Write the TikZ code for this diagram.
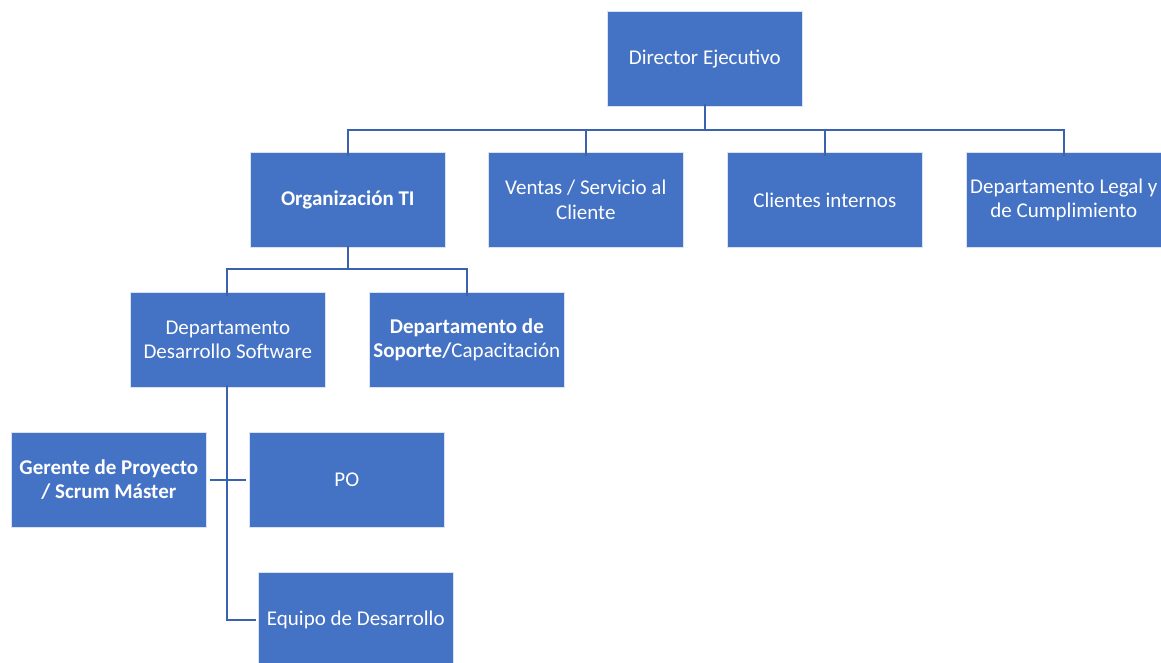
\documentclass[tikz,border=0pt]{standalone}
\usepackage{fontspec}
\setmainfont{Carlito}
\definecolor{boxblue}{HTML}{4472C4}
\definecolor{linkblue}{HTML}{3A62AE}
\tikzset{
  orgbox/.style={draw=white!80!boxblue, line width=0.6pt, fill=boxblue, text=white,
    minimum width=195pt, minimum height=95pt, inner sep=1pt, align=center,
    font=\fontsize{21}{24.5}\selectfont, anchor=north west},
  link/.style={draw=linkblue, line width=2.2pt}
}
\begin{document}
\begin{tikzpicture}[x=1pt,y=-1pt]
\useasboundingbox (0,0) rectangle (1161,663);
\begin{scope}
\clip (0,0) rectangle (1161,663);
% level 1
\node[orgbox] (ceo) at (607,11) {Director Ejecutivo};
% level 2
\node[orgbox] (ti) at (250,152) {\textbf{Organización TI}};
\node[orgbox] (ventas) at (488,152) {Ventas / Servicio al\\Cliente};
\node[orgbox] (clientes) at (727,152) {Clientes internos};
\node[orgbox] (legal) at (966,152) {Departamento Legal y\\de Cumplimiento};
% level 3
\node[orgbox] (dev) at (130,292) {Departamento\\Desarrollo Software};
\node[orgbox] (soporte) at (369,292) {\textbf{Departamento de}\\\textbf{Soporte/}Capacitación};
% level 4
\node[orgbox] (gerente) at (11,432) {\textbf{Gerente de Proyecto}\\\textbf{/ Scrum Máster}};
\node[orgbox] (po) at (249,432) {PO};
\node[orgbox] (equipo) at (258,572) {Equipo de Desarrollo};

% bus coordinates
\coordinate (bus1) at (0,130);
\coordinate (bus2) at (0,269);
\coordinate (trunk) at (227,0);

% connectors from the executive director
\draw[link] ([yshift=3pt]ceo.south) -- (ceo.south |- bus1);
\draw[link] ([xshift=-1.1pt]ti.north |- bus1) -- ([xshift=1.1pt]legal.north |- bus1);
\foreach \n in {ti,ventas,clientes,legal}
  \draw[link] (\n.north |- bus1) -- ([yshift=-4pt]\n.north);

% connectors from the IT organisation
\draw[link] ([yshift=2pt]ti.south) -- (ti.south |- bus2);
\draw[link] ([xshift=-1.1pt]trunk |- bus2) -- ([xshift=1.1pt]soporte.north |- bus2);
\draw[link] (trunk |- bus2) -- ([yshift=-4pt]trunk |- dev.north);
\draw[link] (soporte.north |- bus2) -- ([yshift=-4pt]soporte.north);

% connectors from software development
\draw[link] ([yshift=3pt]trunk |- dev.south) -- (trunk |- equipo.west) -- ([xshift=-2pt]equipo.west);
\draw[link] ([xshift=3pt]gerente.east) -- ([xshift=-3pt]po.west);
\end{scope}
\end{tikzpicture}
\end{document}
